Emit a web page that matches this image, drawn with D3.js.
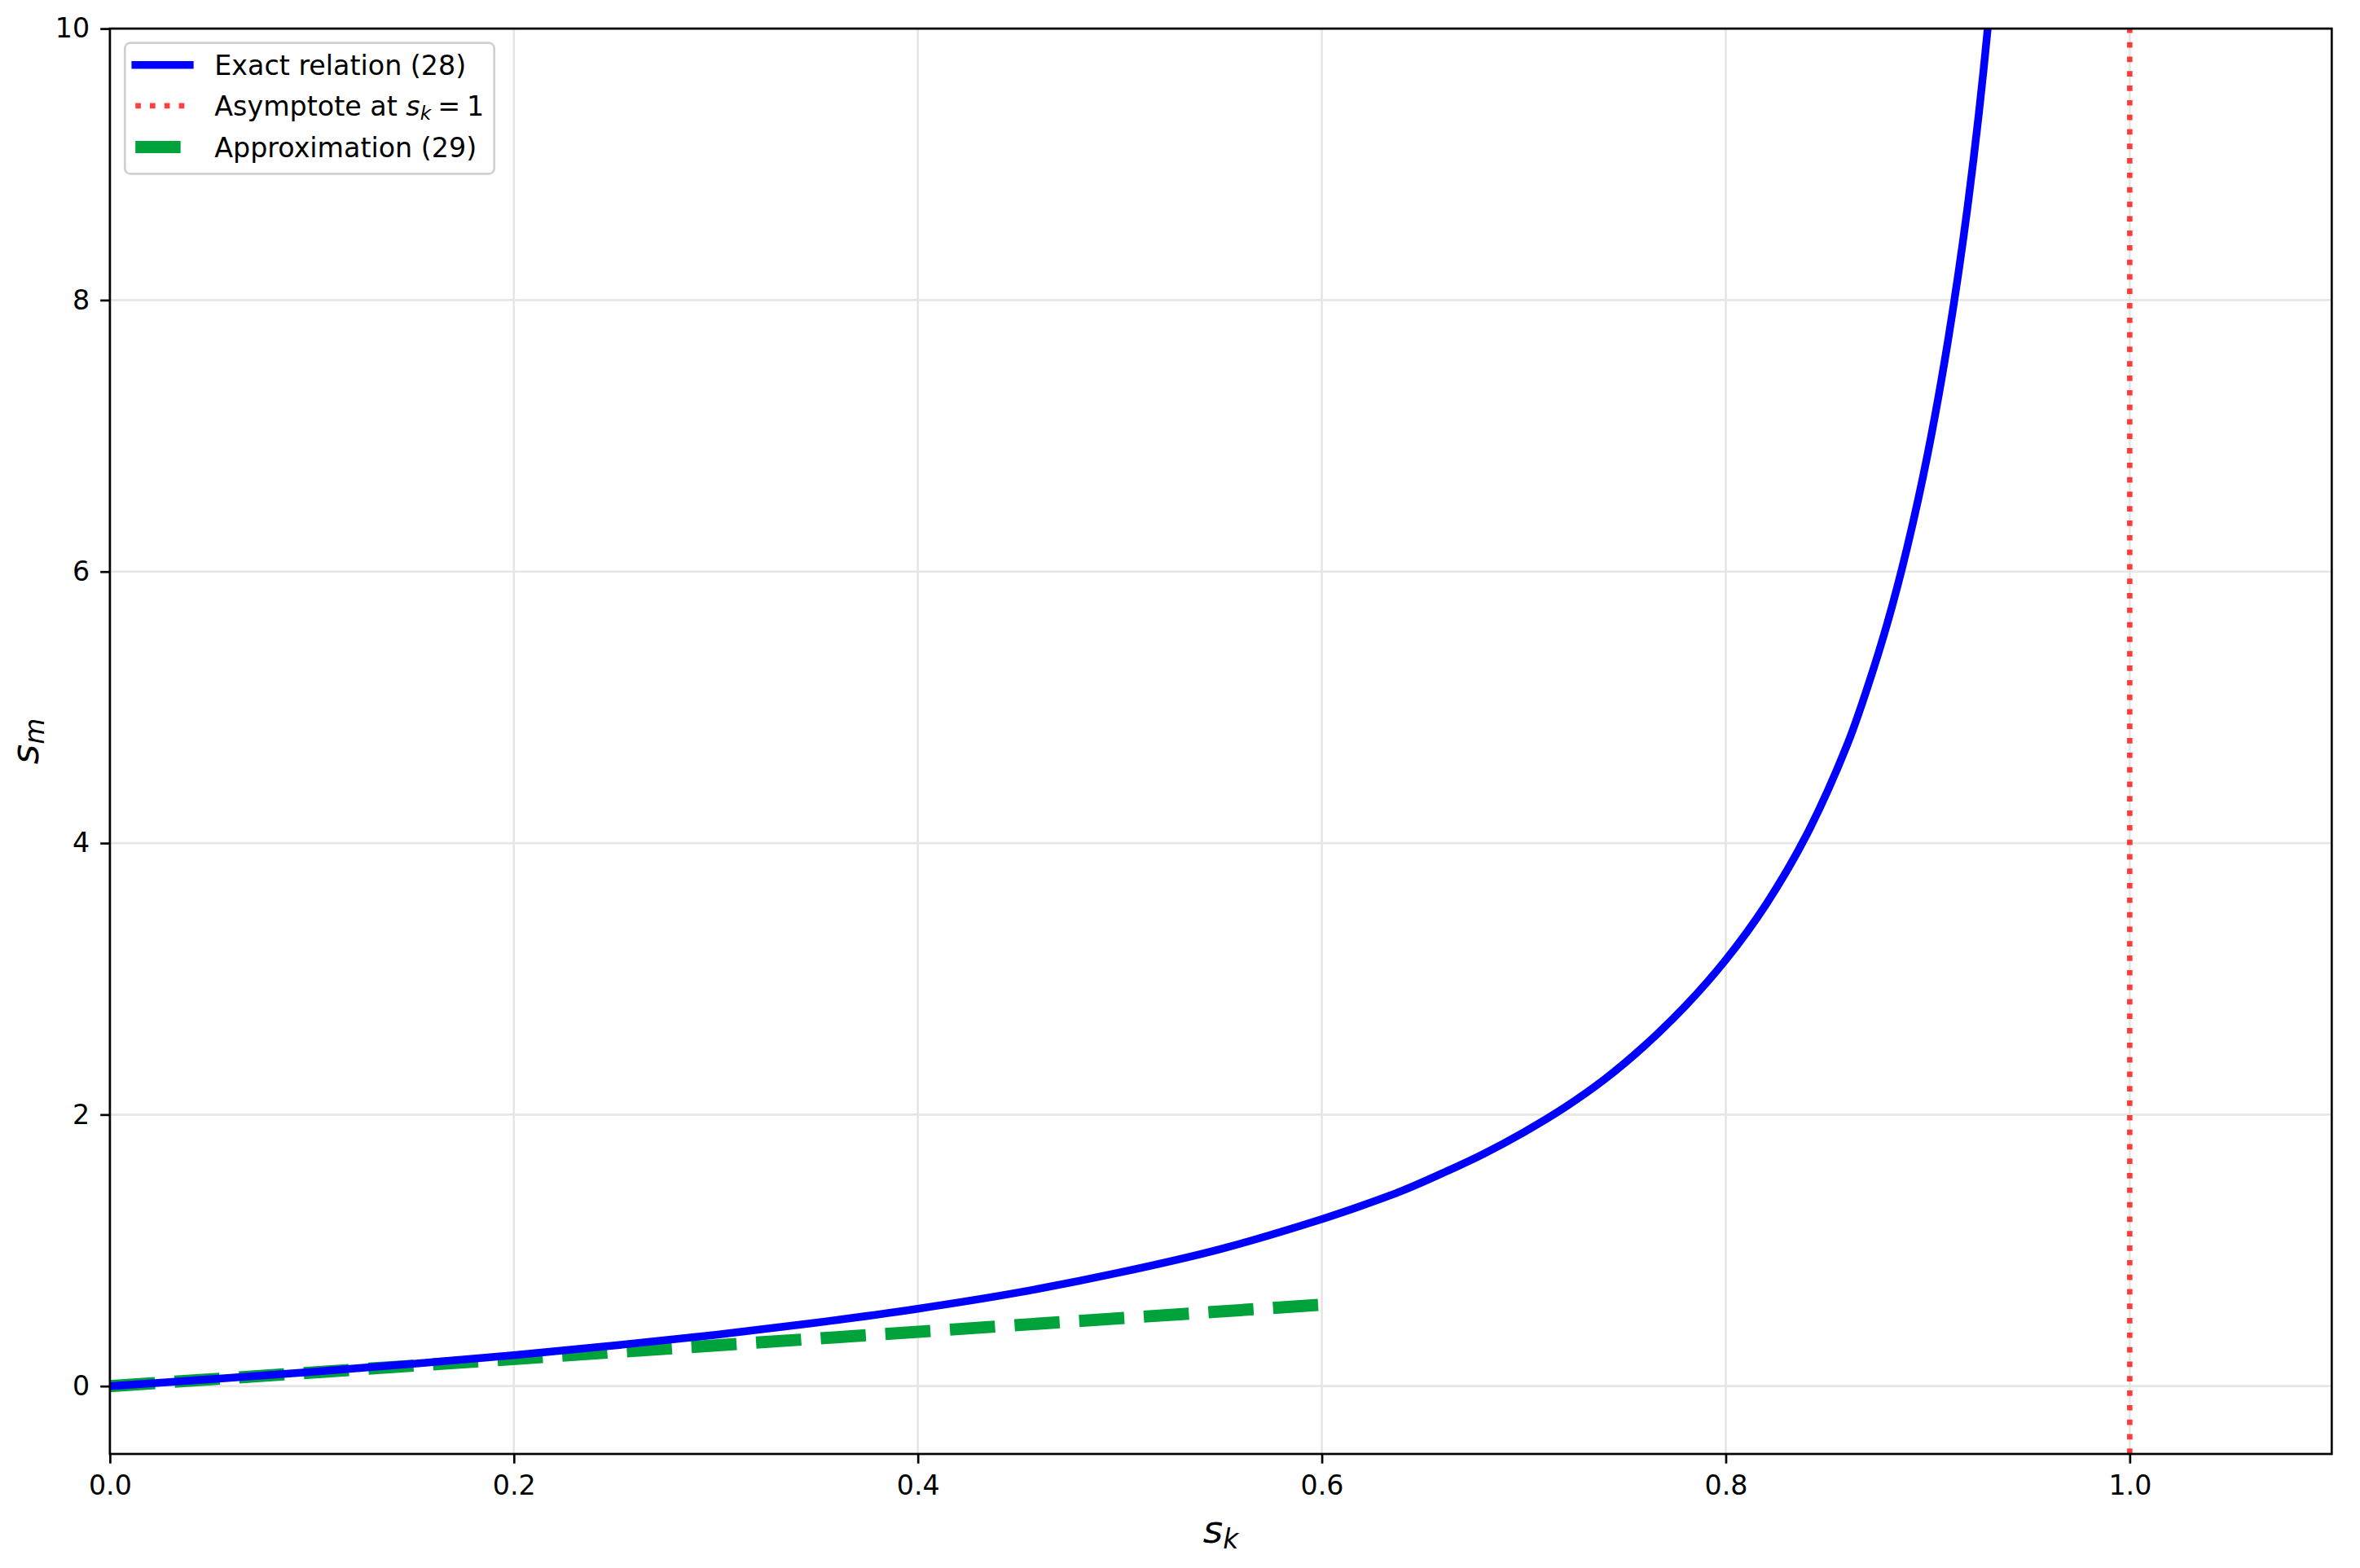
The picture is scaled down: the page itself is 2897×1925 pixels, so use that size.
<!DOCTYPE html>
<html>
<head>
<meta charset="utf-8">
<script src="https://cdn.jsdelivr.net/npm/d3@7"></script>
<style>
  html, body { margin: 0; padding: 0; background: #ffffff; }
  svg { display: block; }
  text { font-family: "DejaVu Sans", sans-serif; fill: #000; }
</style>
</head>
<body>
<script>
// ---------------- data ----------------
const skExact = [0, 0.05, 0.1, 0.15, 0.2, 0.25, 0.3, 0.35, 0.4, 0.45, 0.5, 0.55, 0.6, 0.62, 0.64, 0.66, 0.68, 0.7, 0.72, 0.74, 0.76, 0.78, 0.8, 0.82, 0.84, 0.86, 0.87, 0.88, 0.89, 0.9, 0.91, 0.92, 0.93, 0.935];
const smExact = [0, 0.051, 0.105, 0.164, 0.228, 0.299, 0.378, 0.468, 0.57, 0.69, 0.837, 1.01, 1.23, 1.33, 1.44, 1.57, 1.71, 1.87, 2.05, 2.26, 2.51, 2.8, 3.14, 3.55, 4.06, 4.72, 5.14, 5.62, 6.19, 6.87, 7.7, 8.72, 10.05, 11.0];
const skApprox = [0, 0.6];
const smApprox = [0, 0.6];
const asymptoteSk = 1.0;
const xDomain = [0, 1.1];
const yDomain = [-0.5, 10];
const xTickValues = [0, 0.2, 0.4, 0.6, 0.8, 1.0];
const xTickLabels = ["0.0", "0.2", "0.4", "0.6", "0.8", "1.0"];
const yTickValues = [0, 2, 4, 6, 8, 10];
const yTickLabels = ["0", "2", "4", "6", "8", "10"];
const legendLabels = ["Exact relation (28)", "Asymptote at ", "Approximation (29)"];

// ---------------- layout ----------------
const W = 2897, H = 1925;
const L = 134.9, R = 2862.3, T = 35.1, B = 1785;
const fs = 33.3;       // tick / legend font size
const labelFs = 47;    // axis label font size

const svg = d3.select("body").append("svg").attr("width", W).attr("height", H);
svg.append("rect").attr("width", W).attr("height", H).attr("fill", "#fff");

const x = d3.scaleLinear().domain(xDomain).range([L, R]);
const y = d3.scaleLinear().domain(yDomain).range([B, T]);

svg.append("defs").append("clipPath").attr("id", "plotclip")
  .append("rect").attr("x", L).attr("y", T).attr("width", R - L).attr("height", B - T);

// grid
const grid = svg.append("g");
grid.selectAll("line.gx").data(xTickValues).join("line")
  .attr("x1", d => x(d)).attr("x2", d => x(d)).attr("y1", T).attr("y2", B)
  .attr("stroke", "#e6e6e6").attr("stroke-width", 2.7);
grid.selectAll("line.gy").data(yTickValues).join("line")
  .attr("x1", L).attr("x2", R).attr("y1", d => y(d)).attr("y2", d => y(d))
  .attr("stroke", "#e6e6e6").attr("stroke-width", 2.7);

const plot = svg.append("g").attr("clip-path", "url(#plotclip)");

// approximation (green dashed)
plot.append("path")
  .datum(skApprox.map((v, i) => [v, smApprox[i]]))
  .attr("d", d3.line().x(d => x(d[0])).y(d => y(d[1])))
  .attr("fill", "none").attr("stroke", "#00a23c").attr("stroke-width", 15)
  .attr("stroke-dasharray", "55.5,24");

// exact relation (blue)
plot.append("path")
  .datum(skExact.map((v, i) => [v, smExact[i]]))
  .attr("d", d3.line().x(d => x(d[0])).y(d => y(d[1])).curve(d3.curveCatmullRom.alpha(0.5)))
  .attr("fill", "none").attr("stroke", "#0000ff").attr("stroke-width", 9.5)
  .attr("stroke-linecap", "square").attr("stroke-linejoin", "round");

// asymptote (red dotted), drawn from bottom to top
plot.append("line")
  .attr("x1", x(asymptoteSk)).attr("x2", x(asymptoteSk))
  .attr("y1", B).attr("y2", T)
  .attr("stroke", "#ff0000").attr("stroke-opacity", 0.75)
  .attr("stroke-width", 6.7).attr("stroke-dasharray", "6.7,11.1");

// axes
const xAxis = d3.axisBottom(x).tickValues(xTickValues)
  .tickFormat((d, i) => xTickLabels[i]).tickSizeInner(11.7).tickSizeOuter(0).tickPadding(14.7);
const yAxis = d3.axisLeft(y).tickValues(yTickValues)
  .tickFormat((d, i) => yTickLabels[i]).tickSizeInner(11.7).tickSizeOuter(0).tickPadding(13);

const gx = svg.append("g").attr("transform", `translate(0,${B})`).call(xAxis);
const gy = svg.append("g").attr("transform", `translate(${L},0)`).call(yAxis);
[gx, gy].forEach(g => {
  g.select(".domain").remove();
  g.selectAll(".tick line").attr("stroke", "#000").attr("stroke-width", 2.7);
  g.selectAll(".tick text").attr("font-family", "DejaVu Sans").attr("font-size", fs).attr("fill", "#000");
});

// spines
svg.append("rect").attr("x", L).attr("y", T).attr("width", R - L).attr("height", B - T)
  .attr("fill", "none").attr("stroke", "#000").attr("stroke-width", 2.7);

// axis labels
const xl = svg.append("text").attr("x", (L + R) / 2).attr("y", 1894)
  .attr("text-anchor", "middle").attr("font-size", labelFs);
xl.append("tspan").attr("font-style", "italic").text("s");
xl.append("tspan").attr("font-style", "italic").attr("font-size", labelFs * 0.7).attr("dy", 7).text("k");

const yl = svg.append("text")
  .attr("transform", `translate(46.7,${(T + B) / 2}) rotate(-90)`)
  .attr("text-anchor", "middle").attr("font-size", labelFs);
yl.append("tspan").attr("font-style", "italic").text("s");
yl.append("tspan").attr("font-style", "italic").attr("font-size", labelFs * 0.7).attr("dy", 7).text("m");

// legend
const lg = svg.append("g");
lg.append("rect").attr("x", 153.3).attr("y", 52.7).attr("width", 453.4).attr("height", 160.6)
  .attr("rx", 6.5).attr("fill", "#fff").attr("fill-opacity", 0.8)
  .attr("stroke", "#d0d0d0").attr("stroke-width", 2.7);

const rowY = [79.7, 129.8, 180.4];
const hx0 = 166.2, hx1 = 232.9;
lg.append("line").attr("x1", hx0).attr("x2", hx1).attr("y1", rowY[0]).attr("y2", rowY[0])
  .attr("stroke", "#0000ff").attr("stroke-width", 9.5).attr("stroke-linecap", "square");
lg.append("line").attr("x1", hx0).attr("x2", hx1).attr("y1", rowY[1]).attr("y2", rowY[1])
  .attr("stroke", "#ff0000").attr("stroke-opacity", 0.75)
  .attr("stroke-width", 6.7).attr("stroke-dasharray", "6.7,11.1");
lg.append("line").attr("x1", hx0).attr("x2", hx1).attr("y1", rowY[2]).attr("y2", rowY[2])
  .attr("stroke", "#00a23c").attr("stroke-width", 15).attr("stroke-dasharray", "55.5,24");

const tx = 263.3;
lg.append("text").attr("x", tx).attr("y", rowY[0] + 12.2).attr("font-size", fs).text(legendLabels[0]);
const t2 = lg.append("text").attr("x", tx).attr("y", rowY[1] + 12.2).attr("font-size", fs);
t2.append("tspan").text(legendLabels[1]);
t2.append("tspan").attr("font-style", "italic").text("s");
t2.append("tspan").attr("font-style", "italic").attr("font-size", fs * 0.7).attr("dy", 5).text("k");
t2.append("tspan").attr("dy", -5).attr("dx", 8).text("=");
t2.append("tspan").attr("dx", 8).text("1");
lg.append("text").attr("x", tx).attr("y", rowY[2] + 12.2).attr("font-size", fs).text(legendLabels[2]);
</script>
</body>
</html>
